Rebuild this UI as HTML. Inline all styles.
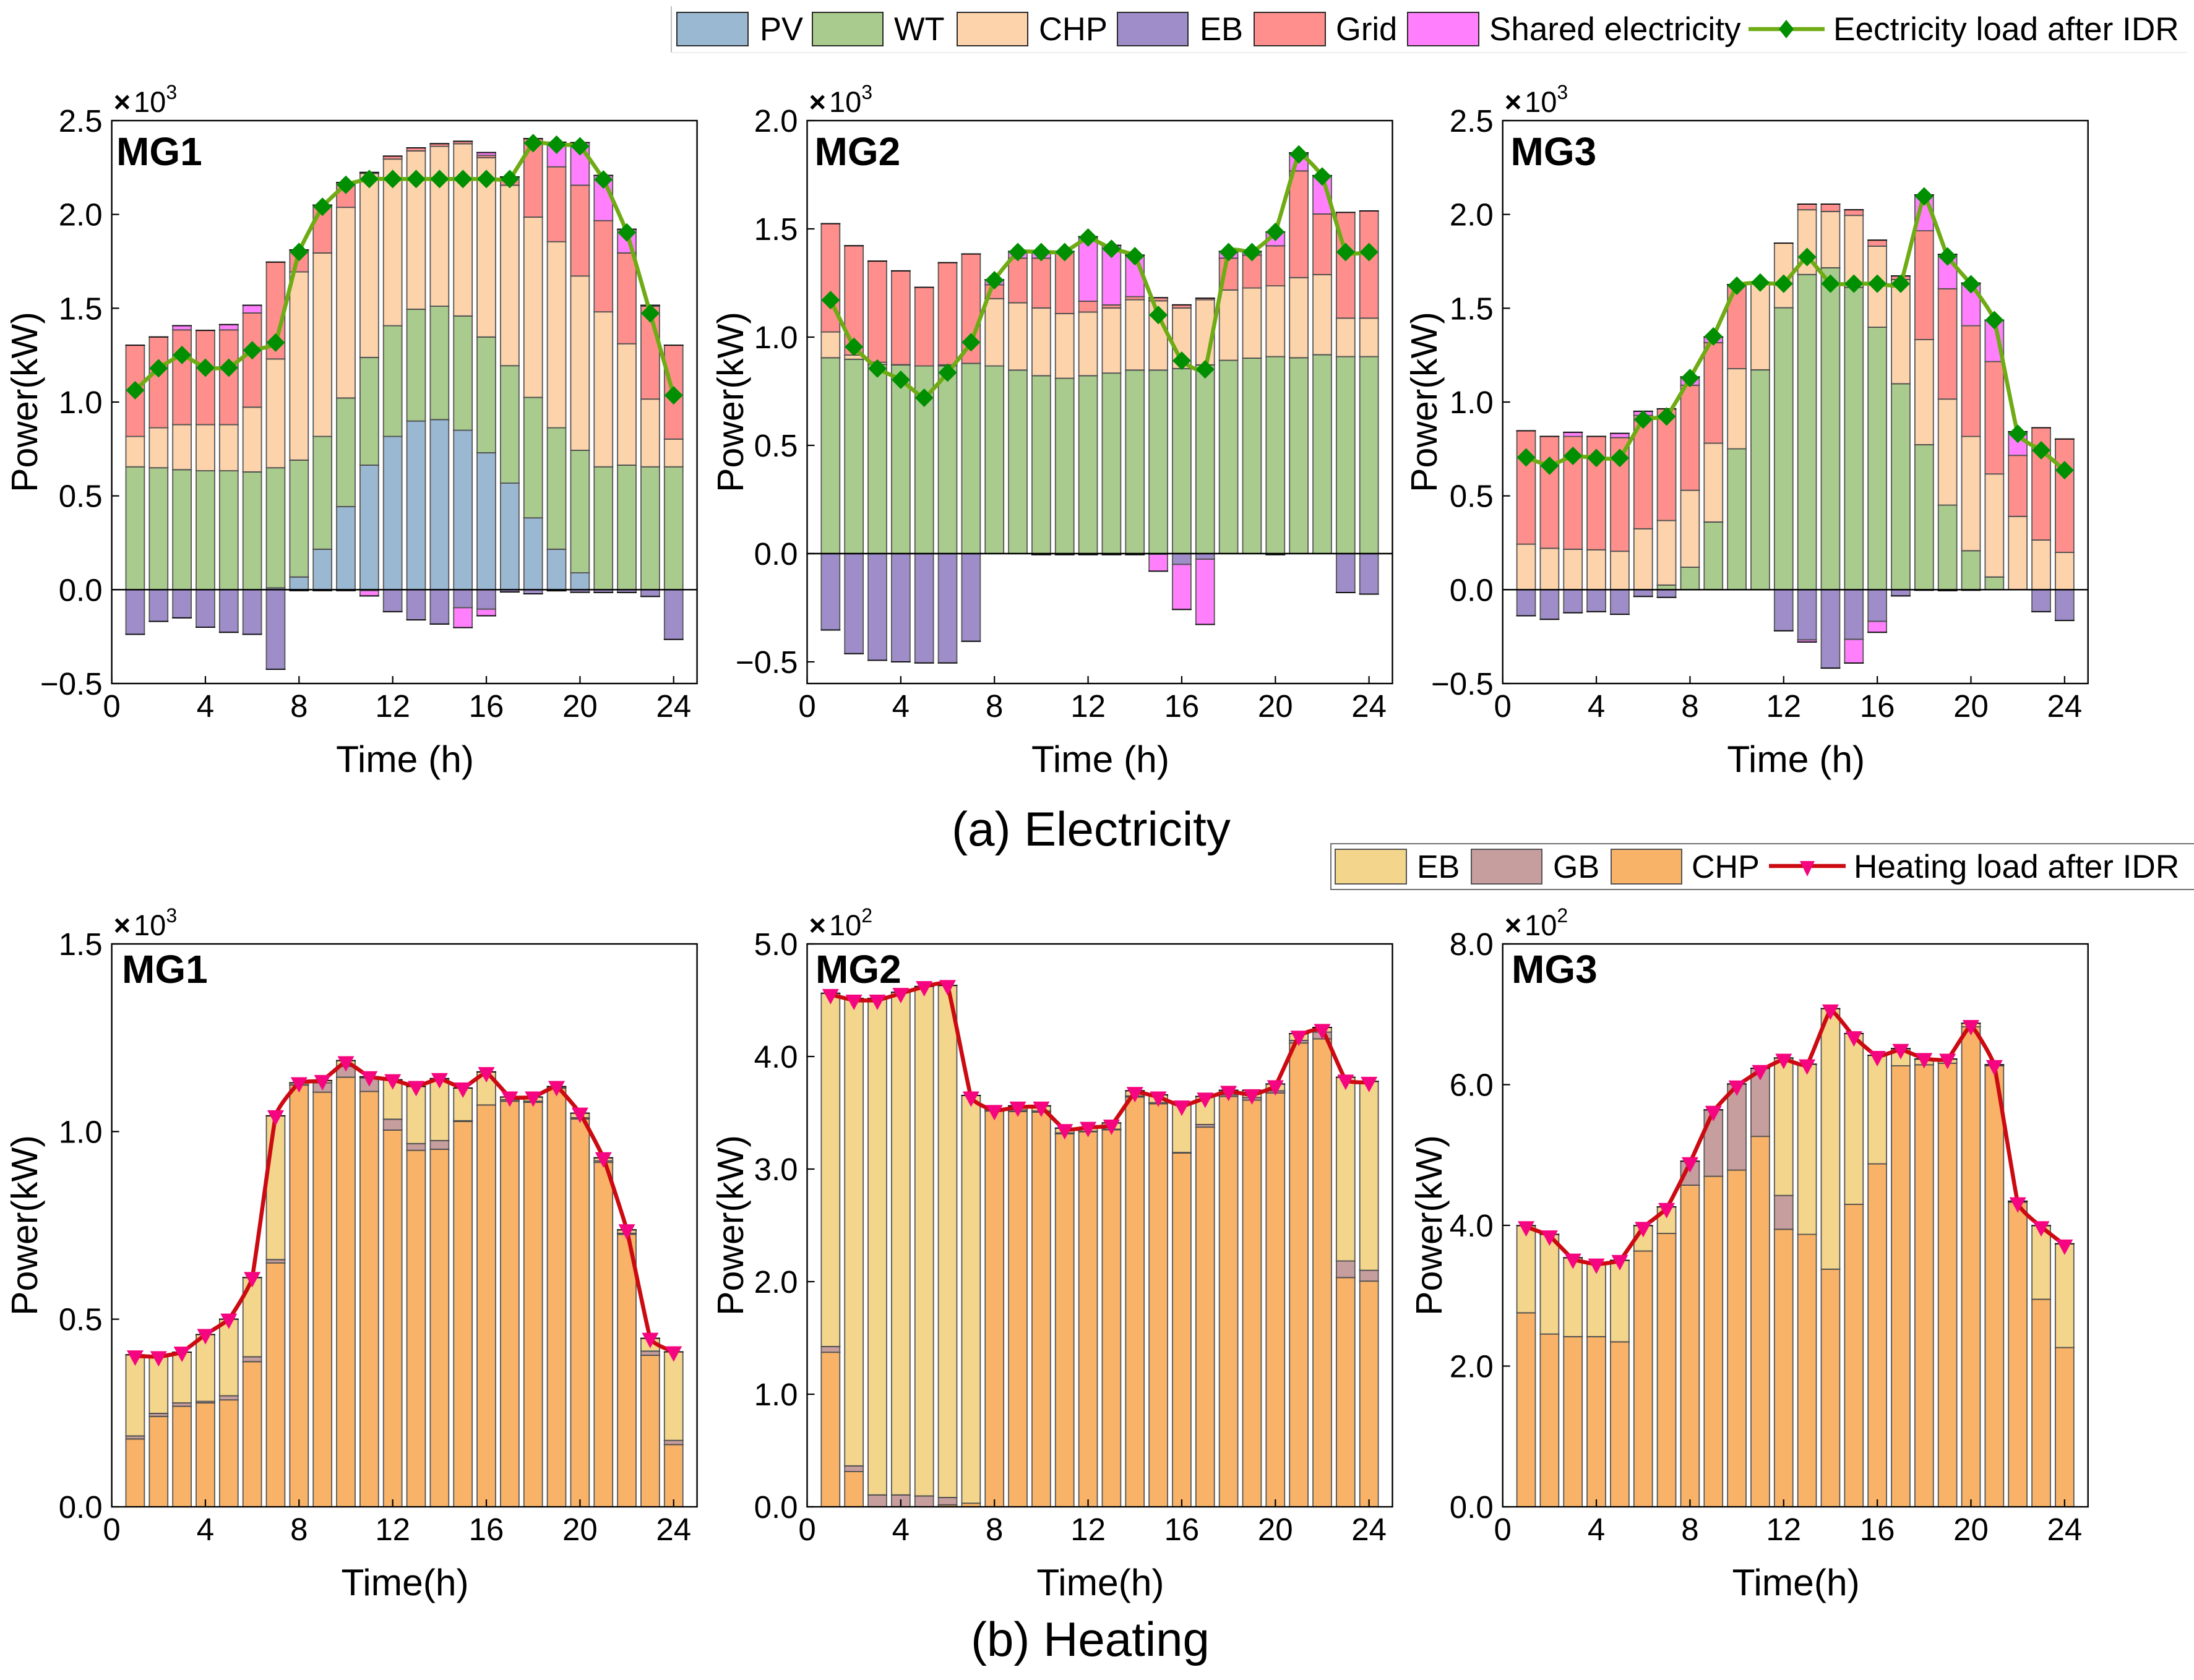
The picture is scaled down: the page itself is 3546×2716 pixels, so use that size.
<!DOCTYPE html>
<html lang="en">
<head>
<meta charset="utf-8">
<title>Electricity and heating power balance for MG1, MG2 and MG3</title>
<style>
html,body{margin:0;padding:0;background:#fff;}
svg{display:block;font-family:"Liberation Sans",Arial,sans-serif;fill:#000;}
</style>
</head>
<body>
<svg id="chart" xmlns="http://www.w3.org/2000/svg" width="3546" height="2716" viewBox="0 0 3546 2716">
  <rect x="0" y="0" width="3546" height="2716" fill="#fff"/>

  <g font-size="52.5">
    <line x1="1085" y1="10" x2="1085" y2="85" stroke="#bdbdbd" stroke-width="2"/>
    <line x1="1085" y1="85" x2="3535" y2="85" stroke="#f0f0f0" stroke-width="2"/>
    <rect x="1094" y="20" width="115" height="54" fill="#9BB8D3" stroke="#2a2a2a" stroke-width="2"/>
    <text x="1228" y="65">PV</text>
    <rect x="1313" y="20" width="114" height="54" fill="#A9CB8E" stroke="#2a2a2a" stroke-width="2"/>
    <text x="1445" y="65">WT</text>
    <rect x="1547" y="20" width="114" height="54" fill="#FDD3AC" stroke="#2a2a2a" stroke-width="2"/>
    <text x="1679" y="65">CHP</text>
    <rect x="1806" y="20" width="114" height="54" fill="#9E8DC8" stroke="#2a2a2a" stroke-width="2"/>
    <text x="1939" y="65">EB</text>
    <rect x="2027" y="20" width="115" height="54" fill="#FF8F8C" stroke="#2a2a2a" stroke-width="2"/>
    <text x="2159" y="65">Grid</text>
    <rect x="2275" y="20" width="115" height="54" fill="#FF7FFC" stroke="#2a2a2a" stroke-width="2"/>
    <text x="2407" y="65" font-size="53">Shared electricity</text>
    <line x1="2826" y1="47" x2="2949" y2="47" stroke="#6FAB14" stroke-width="6.5"/>
    <polygon points="2887,32 2899,47 2887,62 2875,47" fill="#008F00"/>
    <text x="2963" y="65" font-size="53.2">Eectricity load after IDR</text>
  </g>

  <g font-size="52">
    <path d="M3546 1364H2151V1438H3546" fill="#fff" stroke="#707070" stroke-width="2"/>
    <rect x="2158" y="1373" width="115" height="56" fill="#F3D58C" stroke="#555" stroke-width="2"/>
    <text x="2290" y="1419">EB</text>
    <rect x="2378" y="1373" width="114" height="56" fill="#C79E9E" stroke="#555" stroke-width="2"/>
    <text x="2510" y="1419">GB</text>
    <rect x="2604" y="1373" width="114" height="56" fill="#F8B368" stroke="#555" stroke-width="2"/>
    <text x="2734" y="1419">CHP</text>
    <line x1="2859" y1="1400" x2="2983" y2="1400" stroke="#CC0A12" stroke-width="6.5"/>
    <polygon points="2909,1392 2933,1392 2921,1417" fill="#F5057F"/>
    <text x="2996" y="1419" font-size="53.2">Heating load after IDR</text>
  </g>

  <text x="1763.5" y="1367" font-size="78" text-anchor="middle">(a) Electricity</text>
  <text x="1762" y="2677" font-size="78" text-anchor="middle">(b) Heating</text>
  <g id="panels"></g>
</svg>

<script>
const hours = [1,2,3,4,5,6,7,8,9,10,11,12,13,14,15,16,17,18,19,20,21,22,23,24];
const xTicks = [0,4,8,12,16,20,24];

const elecMg1Ticks = [-0.5,0,0.5,1,1.5,2,2.5];
const elecMg2Ticks = [-0.5,0,0.5,1,1.5,2];
const elecMg3Ticks = [-0.5,0,0.5,1,1.5,2,2.5];
const heatMg1Ticks = [0,0.5,1,1.5];
const heatMg2Ticks = [0,1,2,3,4,5];
const heatMg3Ticks = [0,2,4,6,8];

const elecMg1Pv = [0,0,0,0,0,0,.01,.068,.216,.443,.664,.817,.899,.907,.85,.73,.568,.383,.216,.09,0,0,0,0];
const elecMg1Wt = [.655,.65,.64,.634,.634,.628,.64,.623,.601,.579,.574,.59,.596,.604,.609,.617,.626,.642,.647,.653,.655,.664,.655,.655];
const elecMg1Chp = [.162,.213,.24,.246,.246,.345,.58,1.003,.978,1.016,.981,.888,.844,.852,.918,.956,.962,.961,.992,.929,.826,.647,.361,.148];
const elecMg1Grid = [.486,.484,.505,.502,.505,.502,.516,.117,.255,.132,.005,.016,.016,.014,.013,.012,.044,.418,.399,.484,.486,.484,.495,.5];
const elecMg1Shared = [0,0,.022,0,.028,.041,0,0,0,0,0,0,0,0,0,.015,0,0,.131,.227,.241,.126,.005,0];
const elecMg1Eb = [.238,.169,.15,.2,.227,.238,.424,.005,.005,.005,.005,.117,.161,.183,.096,.104,.012,.022,.006,.014,.015,.015,.036,.265];
const elecMg1SharedOut = [0,0,0,0,0,0,0,0,0,0,.028,0,0,0,.106,.035,0,0,0,0,0,0,0,0];
const elecMg1Load = [1.063,1.18,1.251,1.183,1.183,1.276,1.317,1.8,2.041,2.158,2.189,2.189,2.189,2.189,2.189,2.189,2.189,2.38,2.372,2.363,2.186,1.904,1.473,1.036];

const elecMg2Pv = [0,0,0,0,0,0,0,0,0,0,0,0,0,0,0,0,0,0,0,0,0,0,0,0];
const elecMg2Wt = [.905,.898,.874,.872,.867,.867,.879,.867,.848,.822,.81,.822,.834,.848,.848,.855,.872,.893,.903,.91,.905,.919,.91,.91];
const elecMg2Chp = [.119,.019,.01,.001,0,.005,0,.311,.311,.313,.299,.294,.301,.325,.32,.28,.301,.325,.324,.327,.37,.37,.178,.178];
const elecMg2Grid = [.5,.505,.467,.433,.363,.472,.505,.064,.206,.23,.287,.05,.014,.014,.014,.014,.007,.147,.152,.185,.493,.28,.488,.495];
const elecMg2Shared = [0,0,0,0,0,0,0,.023,.031,.031,0,.298,.275,.192,0,0,0,.031,.017,.064,.083,.177,0,0];
const elecMg2Eb = [.353,.462,.493,.5,.505,.505,.405,0,0,.005,.005,.005,.005,.005,.003,.05,.026,0,0,.005,0,0,.18,.187];
const elecMg2SharedOut = [0,0,0,0,0,0,0,0,0,0,0,0,0,0,.078,.208,.301,0,0,0,0,0,0,0];
const elecMg2Load = [1.171,.955,.855,.803,.72,.836,.976,1.263,1.393,1.393,1.393,1.46,1.408,1.374,1.102,.891,.851,1.393,1.393,1.486,1.844,1.742,1.393,1.393];

const elecMg3Pv = [0,0,0,0,0,0,0,0,0,0,0,0,0,0,0,0,0,0,0,0,0,0,0,0];
const elecMg3Wt = [0,0,0,0,0,0,.025,.12,.361,.751,1.172,1.503,1.68,1.716,1.612,1.399,1.098,.773,.451,.208,.068,0,0,0];
const elecMg3Chp = [.243,.221,.216,.213,.205,.325,.344,.41,.42,.427,.462,.344,.345,.3,.383,.432,.555,.56,.565,.609,.549,.391,.265,.199];
const elecMg3Grid = [.604,.596,.601,.604,.606,.604,.595,.56,.536,.448,0,0,.03,.039,.03,.032,.019,.58,.588,.59,.599,.325,.598,.604];
const elecMg3Shared = [0,0,.022,0,.022,.022,0,.044,.03,0,0,0,0,0,0,0,0,.191,.183,.227,.221,.126,0,0];
const elecMg3Eb = [.139,.158,.123,.117,.131,.036,.041,0,0,0,0,.219,.268,.418,.265,.169,.033,.003,.005,.003,0,0,.117,.164];
const elecMg3SharedOut = [0,0,0,0,0,0,0,0,0,0,0,0,.011,0,.126,.058,0,0,0,0,0,0,0,0];
const elecMg3Load = [.705,.661,.713,.702,.702,.907,.923,1.128,1.35,1.62,1.637,1.631,1.773,1.631,1.631,1.631,1.631,2.096,1.776,1.628,1.437,.831,.743,.637];

const heatMg1Chp = [.181,.241,.268,.277,.285,.387,.65,1.124,1.105,1.145,1.107,1.004,.95,.953,1.027,1.071,1.081,1.078,1.116,1.034,.918,.726,.404,.166];
const heatMg1Gb = [.008,.008,.009,.004,.011,.013,.009,.001,.025,.029,.036,.029,.018,.023,.002,0,.004,.003,.001,.003,.004,.003,.011,.011];
const heatMg1Eb = [.216,.152,.135,.178,.204,.211,.383,.005,.006,.015,.003,.105,.152,.165,.087,.088,.007,.011,.003,.012,.008,.009,.034,.236];
const heatMg1Load = [.402,.4,.412,.459,.5,.611,1.042,1.13,1.136,1.186,1.146,1.138,1.12,1.141,1.116,1.157,1.092,1.092,1.12,1.049,.93,.738,.449,.413];

const heatMg2Chp = [1.373,.313,0,0,0,.018,.032,3.516,3.512,3.507,3.313,3.332,3.35,3.641,3.581,3.143,3.373,3.645,3.613,3.677,4.12,4.157,2.037,2.005];
const heatMg2Gb = [.051,.051,.106,.106,.097,.065,0,.009,.013,.009,.009,.005,.005,.009,.009,.005,.023,.014,.023,.019,.023,.06,.147,.096];
const heatMg2Eb = [3.138,4.152,4.41,4.465,4.525,4.548,3.622,.01,.037,.046,.042,.027,.055,.046,.069,.433,.249,.041,.064,.06,.06,.041,1.632,1.678];
const heatMg2Load = [4.55,4.5,4.5,4.56,4.62,4.63,3.64,3.52,3.55,3.55,3.35,3.37,3.39,3.68,3.64,3.56,3.63,3.69,3.66,3.74,4.18,4.24,3.79,3.77];

const heatMg3Chp = [2.758,2.456,2.419,2.419,2.345,3.636,3.886,4.572,4.698,4.786,5.265,3.945,3.872,3.378,4.299,4.875,6.268,6.283,6.305,6.822,6.268,4.329,2.95,2.264];
const heatMg3Gb = [0,0,0,0,0,0,0,.34,.944,1.224,.967,.48,0,0,0,0,0,0,0,0,0,0,0,0];
const heatMg3Eb = [1.239,1.416,1.121,1.047,1.158,.361,.377,0,0,0,0,1.954,2.419,3.702,2.427,1.541,.244,.081,.059,.051,.015,.015,1.047,1.475];
const heatMg3Load = [3.98,3.85,3.52,3.45,3.5,3.97,4.24,4.89,5.62,5.98,6.2,6.36,6.28,7.06,6.68,6.4,6.5,6.37,6.36,6.84,6.27,4.32,3.98,3.72];

const SVG_NS = 'http://www.w3.org/2000/svg';
const root = document.getElementById('panels');
const ELEC_COLORS = {pv:'#9BB8D3', wt:'#A9CB8E', chp:'#FDD3AC', grid:'#FF8F8C', shared:'#FF7FFC', eb:'#9E8DC8'};
const HEAT_COLORS = {chp:'#F8B368', gb:'#C79E9E', eb:'#F3D58C'};

function make(tag, attrs, parent) {
  const node = document.createElementNS(SVG_NS, tag);
  Object.keys(attrs).forEach(function (k) { node.setAttribute(k, attrs[k]); });
  parent.appendChild(node);
  return node;
}

function curvePath(pts) {
  const k = 0.05;
  let d = 'M' + pts[0][0] + ' ' + pts[0][1];
  for (let i = 0; i < pts.length - 1; i++) {
    const p0 = pts[Math.max(i - 1, 0)], p1 = pts[i], p2 = pts[i + 1], p3 = pts[Math.min(i + 2, pts.length - 1)];
    d += 'C' + (p1[0] + k * (p2[0] - p0[0])) + ' ' + (p1[1] + k * (p2[1] - p0[1])) + ' ' +
         (p2[0] - k * (p3[0] - p1[0])) + ' ' + (p2[1] - k * (p3[1] - p1[1])) + ' ' + p2[0] + ' ' + p2[1];
  }
  return d;
}

function drawSegment(cfg, g, key, hour, xLeft, yTop, barW, barH, color, edgeY) {
  const seg = make('rect', {x: xLeft, y: yTop, width: barW, height: barH, fill: color, stroke: '#555', 'stroke-width': 1.8}, g);
  
  
  const edge = make('line', {x1: xLeft - 1, x2: xLeft + barW + 1, y1: edgeY, y2: edgeY, stroke: '#111', 'stroke-width': 2}, g);
  
  
}

function drawPanel(cfg) {
  const g = make('g', {}, root);
  
  
  const W = 946, H = 910;
  const x = function (v) { return cfg.left + v * W / 25; };
  const y = function (v) { return cfg.top + H - (v - cfg.yMin) * H / (cfg.yMax - cfg.yMin); };
  const barW = 0.79 * W / 25;

  const bg = make('rect', {x: cfg.left, y: cfg.top, width: W, height: H, fill: '#fff'}, g);
  
  

  hours.forEach(function (hour, i) {
    let up = 0;
    cfg.upper.forEach(function (s) {
      const v = s.values[i];
      if (v > 0) {
        drawSegment(cfg, g, s.key, hour, x(hour) - barW / 2, y(up + v), barW, y(up) - y(up + v), s.color, y(up + v));
      }
      up += v;
    });
    let down = 0;
    cfg.lower.forEach(function (s) {
      const v = s.values[i];
      if (v > 0) {
        drawSegment(cfg, g, s.key + '-out', hour, x(hour) - barW / 2, y(down), barW, y(down - v) - y(down), s.color, y(down - v));
      }
      down -= v;
    });
  });

  if (cfg.yMin < 0) {
    const zero = make('line', {x1: cfg.left, x2: cfg.left + W, y1: y(0), y2: y(0), stroke: '#000', 'stroke-width': 2.4}, g);
    
    
  }

  const pts = hours.map(function (hour, i) { return [x(hour), y(cfg.load[i])]; });
  const path = make('path', {d: curvePath(pts), fill: 'none', stroke: cfg.lineColor, 'stroke-width': 6.5, 'stroke-linejoin': 'round'}, g);
  
  
  pts.forEach(function (p, i) {
    const shape = cfg.marker === 'diamond'
      ? [[0,-15],[15,0],[0,15],[-15,0]]
      : [[-13.5,-9],[13.5,-9],[0,16]];
    const m = make('polygon', {points: shape.map(function (o) { return (p[0] + o[0]) + ',' + (p[1] + o[1]); }).join(' '), fill: cfg.markerColor}, g);
    
    
  });

  const frame = make('rect', {x: cfg.left, y: cfg.top, width: W, height: H, fill: 'none', stroke: '#000', 'stroke-width': 2.4}, g);
  
  

  xTicks.forEach(function (t) {
    const tick = make('line', {x1: x(t), x2: x(t), y1: cfg.top + H, y2: cfg.top + H - 12, stroke: '#000', 'stroke-width': 2.2}, g);
    
    
    const lab = make('text', {x: x(t), y: cfg.top + H + 54, 'font-size': 51, 'text-anchor': 'middle'}, g);
    lab.textContent = String(t);
    
    
  });
  cfg.ticks.forEach(function (t) {
    const tick = make('line', {x1: cfg.left, x2: cfg.left + 12, y1: y(t), y2: y(t), stroke: '#000', 'stroke-width': 2.2}, g);
    
    
    const lab = make('text', {x: cfg.left - 15, y: y(t) + 18, 'font-size': 51, 'text-anchor': 'end'}, g);
    lab.textContent = (t < 0 ? '\u2212' : '') + Math.abs(t).toFixed(1);
    
    
  });

  const mg = make('text', {x: cfg.labelX, y: cfg.labelY, 'font-size': 64, 'font-weight': 'bold'}, g);
  mg.textContent = cfg.title;
  
  

  const mult = make('text', {x: cfg.left + 3, y: cfg.top - 14, 'font-size': 47}, g);
  
  
  const times = make('tspan', {'font-weight': 'bold'}, mult);
  times.textContent = '\u00d7';
  const ten = make('tspan', {dx: 5}, mult);
  ten.textContent = '10';
  const exp = make('tspan', {dy: -21, 'font-size': 32}, mult);
  exp.textContent = cfg.exponent;

  const xt = make('text', {x: cfg.left + W / 2 + 1, y: cfg.top + H + cfg.xTitleGap, 'font-size': 60.5, 'text-anchor': 'middle'}, g);
  xt.textContent = cfg.xTitle;
  
  

  const yMid = cfg.top + H / 2;
  const yt = make('text', {x: cfg.yTitleX, y: yMid, 'font-size': 59, 'text-anchor': 'middle', transform: 'rotate(-90 ' + cfg.yTitleX + ' ' + yMid + ')'}, g);
  yt.textContent = 'Power(kW)';
  
  
}

function elecPanel(id, title, left, labelX, yTitleX, yMin, yMax, ticks, pv, wt, chp, grid, shared, eb, out, load) {
  drawPanel({
    id: id, title: title, left: left, top: 195, yMin: yMin, yMax: yMax, ticks: ticks,
    labelX: labelX, labelY: 267, yTitleX: yTitleX, xTitle: 'Time (h)', xTitleGap: 143, exponent: '3',
    upper: [
      {key: 'pv', values: pv, color: ELEC_COLORS.pv},
      {key: 'wt', values: wt, color: ELEC_COLORS.wt},
      {key: 'chp', values: chp, color: ELEC_COLORS.chp},
      {key: 'grid', values: grid, color: ELEC_COLORS.grid},
      {key: 'shared', values: shared, color: ELEC_COLORS.shared}
    ],
    lower: [
      {key: 'eb', values: eb, color: ELEC_COLORS.eb},
      {key: 'shared', values: out, color: ELEC_COLORS.shared}
    ],
    load: load, lineColor: '#6FAB14', marker: 'diamond', markerColor: '#008F00'
  });
}

function heatPanel(id, title, left, labelX, yTitleX, yMax, ticks, exponent, chp, gb, eb, load) {
  drawPanel({
    id: id, title: title, left: left, top: 1526, yMin: 0, yMax: yMax, ticks: ticks,
    labelX: labelX, labelY: 1589, yTitleX: yTitleX, xTitle: 'Time(h)', xTitleGap: 143, exponent: exponent,
    upper: [
      {key: 'chp', values: chp, color: HEAT_COLORS.chp},
      {key: 'gb', values: gb, color: HEAT_COLORS.gb},
      {key: 'eb', values: eb, color: HEAT_COLORS.eb}
    ],
    lower: [],
    load: load, lineColor: '#CC0A12', marker: 'triangle', markerColor: '#F5057F'
  });
}

elecPanel('electricity-mg1', 'MG1', 180.6, 188, 60, -0.5, 2.5, elecMg1Ticks, elecMg1Pv, elecMg1Wt, elecMg1Chp, elecMg1Grid, elecMg1Shared, elecMg1Eb, elecMg1SharedOut, elecMg1Load);
elecPanel('electricity-mg2', 'MG2', 1304.5, 1316.5, 1201, -0.6, 2.0, elecMg2Ticks, elecMg2Pv, elecMg2Wt, elecMg2Chp, elecMg2Grid, elecMg2Shared, elecMg2Eb, elecMg2SharedOut, elecMg2Load);
elecPanel('electricity-mg3', 'MG3', 2428.7, 2441.5, 2322, -0.5, 2.5, elecMg3Ticks, elecMg3Pv, elecMg3Wt, elecMg3Chp, elecMg3Grid, elecMg3Shared, elecMg3Eb, elecMg3SharedOut, elecMg3Load);
heatPanel('heating-mg1', 'MG1', 180.6, 197, 60, 1.5, heatMg1Ticks, '3', heatMg1Chp, heatMg1Gb, heatMg1Eb, heatMg1Load);
heatPanel('heating-mg2', 'MG2', 1304.5, 1318, 1201, 5, heatMg2Ticks, '2', heatMg2Chp, heatMg2Gb, heatMg2Eb, heatMg2Load);
heatPanel('heating-mg3', 'MG3', 2428.7, 2443, 2330, 8, heatMg3Ticks, '2', heatMg3Chp, heatMg3Gb, heatMg3Eb, heatMg3Load);
</script>
</body>
</html>
